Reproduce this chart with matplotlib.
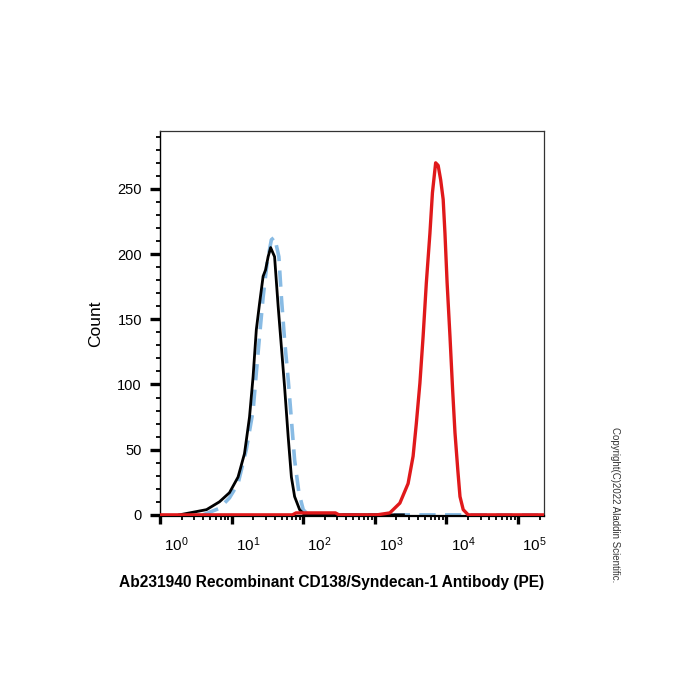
import numpy as np
import matplotlib.pyplot as plt
from matplotlib.ticker import FixedLocator, FixedFormatter, NullFormatter
import matplotlib.transforms as mtransforms

plt.rcParams['font.family'] = ['Liberation Sans', 'DejaVu Sans']
plt.rcParams['mathtext.fontset'] = 'custom'
plt.rcParams['mathtext.rm'] = 'Liberation Sans'
plt.rcParams['mathtext.it'] = 'Liberation Sans'

# values (x as log10 of PE intensity, y as event count)
black_log = [0.27, 0.46, 0.65, 0.83, 0.97, 1.09, 1.18, 1.25, 1.30, 1.345, 1.39, 1.44, 1.475,
             1.51, 1.545, 1.60, 1.65, 1.695, 1.74, 1.79, 1.835, 1.88, 1.95, 2.02, 3.40]
black_count = [0, 2, 4, 10, 17, 29, 47, 75, 106, 142, 162, 183, 188,
               198, 205, 198, 160, 129, 98, 60, 29, 14, 4, 0, 0]

blue_log = [0.60, 0.83, 0.97, 1.09, 1.205, 1.30, 1.345, 1.39, 1.44, 1.495, 1.555, 1.60, 1.66,
            1.695, 1.74, 1.79, 1.835, 1.88, 1.94, 2.00, 2.07, 5.36]
blue_count = [0, 5, 13, 24, 50, 80, 109, 137, 167, 193, 211, 213, 198,
              167, 134, 104, 73, 42, 17, 4, 0, 0]

red_log = [0.0, 1.85, 1.90, 2.45, 2.50, 3.03, 3.21, 3.35, 3.465, 3.535, 3.58, 3.63, 3.675, 3.72,
           3.77, 3.805, 3.85, 3.885, 3.92, 3.955, 3.98, 4.01, 4.05, 4.087, 4.12, 4.16, 4.19,
           4.235, 4.305, 5.36]
red_count = [0, 0, 1.5, 1.5, 0, 0, 1.5, 9, 24, 45, 70, 101, 137, 178,
             216, 247, 270, 268, 257, 242, 216, 178, 137, 96, 63, 34, 14,
             4, 0, 0]

decades = [0, 1, 2, 3, 4, 5]
y_major = [0, 50, 100, 150, 200, 250]

fig = plt.figure(figsize=(7, 7), dpi=100)
ax = fig.add_axes([0.2286, 0.263, 0.5486, 0.55])

ax.plot(np.power(10.0, blue_log), blue_count, color='#88bbe4', lw=2.6,
        dashes=(4.5, 2.6), zorder=2)
ax.plot(np.power(10.0, black_log), black_count, color='black', lw=2.0, zorder=3)
ax.plot(np.power(10.0, red_log), red_count, color='#e0191b', lw=2.4, zorder=4)

ax.set_xscale('log')
ax.set_xlim(1, 10 ** 5.364)
ax.set_ylim(-0.8, 294.5)

# x ticks
ax.xaxis.set_major_locator(FixedLocator([10.0 ** d for d in decades]))
ax.xaxis.set_major_formatter(FixedFormatter(['$10^{%d}$' % d for d in decades]))
minors = [m * 10.0 ** d for d in decades[:-1] for m in range(2, 10)]
minors += [m * 1e5 for m in (2,)]
ax.xaxis.set_minor_locator(FixedLocator(minors))
ax.xaxis.set_minor_formatter(NullFormatter())
ax.tick_params(axis='x', which='major', length=6, width=2.4, labelsize=11, pad=8)
ax.tick_params(axis='x', which='minor', length=3, width=1.3)
offset = mtransforms.ScaledTranslation(3 / 72, 0, fig.dpi_scale_trans)
for lab in ax.get_xticklabels():
    lab.set_horizontalalignment('left')
    lab.set_transform(lab.get_transform() + offset)

# y ticks
ax.yaxis.set_major_locator(FixedLocator(y_major))
ax.yaxis.set_minor_locator(FixedLocator(list(range(10, 300, 10))))
ax.tick_params(axis='y', which='major', length=7, width=2.4, labelsize=10.5, pad=6)
ax.tick_params(axis='y', which='minor', length=3, width=1.3)

for s in ['top', 'right']:
    ax.spines[s].set_linewidth(0.9)
    ax.spines[s].set_color('#333333')
ax.spines['left'].set_linewidth(1.0)
ax.spines['bottom'].set_linewidth(1.6)

ax.set_ylabel('Count', fontsize=12.5, labelpad=10)
fig.text(0.474, 0.168, 'Ab231940 Recombinant CD138/Syndecan-1 Antibody (PE)',
         ha='center', va='center', fontsize=11.2, fontweight='bold')
fig.text(0.879, 0.279, 'Copyright(C)2022 Aladdin Scientific.', rotation=-90,
         ha='center', va='center', fontsize=7, color='#333333')

fig.savefig('out.png', dpi=100)
